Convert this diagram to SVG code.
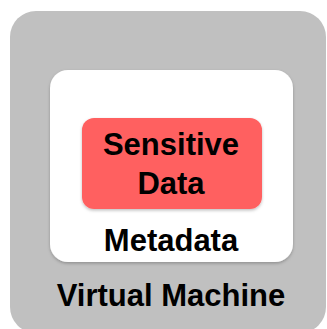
<svg xmlns="http://www.w3.org/2000/svg" width="327" height="329" viewBox="0 0 327 329">
  <style>
    .label { font-family: "Liberation Sans", Arial, sans-serif; font-weight: bold; font-size: 31px; fill: #000; text-anchor: middle; }
  </style>
  <defs>
    <filter id="soft" x="-10%" y="-10%" width="120%" height="125%">
      <feDropShadow dx="0" dy="1.5" stdDeviation="1.5" flood-color="#000" flood-opacity="0.25"/>
    </filter>
  </defs>
  <rect width="327" height="329" fill="#ffffff"/>
  <g id="virtual-machine">
    <rect x="10" y="11" width="316" height="322" rx="26" fill="#c0c0c0"/>
    <text class="label" x="171" y="306">Virtual Machine</text>
  </g>
  <g id="metadata">
    <rect x="50" y="70" width="243" height="192" rx="18" fill="#ffffff" filter="url(#soft)"/>
    <text class="label" x="171" y="251">Metadata</text>
  </g>
  <g id="sensitive-data">
    <rect x="82" y="118" width="180" height="91" rx="12" fill="#ff6161" filter="url(#soft)"/>
    <text class="label" x="171" y="155">Sensitive</text>
    <text class="label" x="171" y="194">Data</text>
  </g>
  <g id="connectors"/>
</svg>
